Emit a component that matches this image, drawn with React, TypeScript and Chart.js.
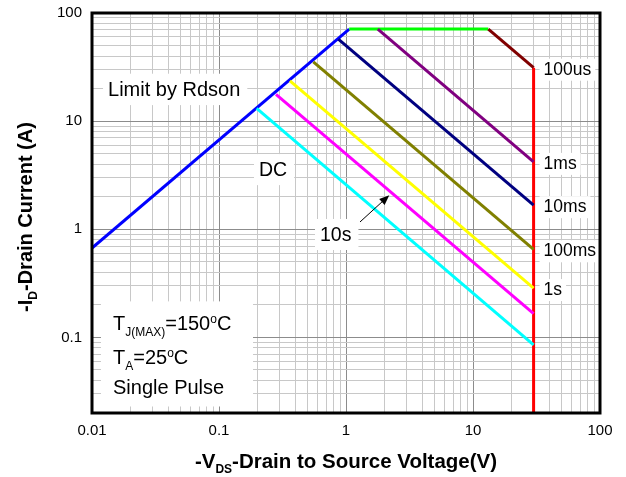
import { useEffect, useRef } from "react";
import { Chart, registerables } from "chart.js";

Chart.register(...registerables);

const FONT = "'Liberation Sans', Arial, Helvetica, sans-serif";

// Safe operating area boundaries: drain-source voltage (V) against drain current (A)
const rdsonV = [0.01, 1.06];
const rdsonI = [0.67, 71];
const currentLimitV = [1.06, 13.2];
const currentLimitI = [71, 71];
const pulse100usV = [13.2, 30];
const pulse100usI = [71, 31.2];
const breakdownV = [30, 30];
const breakdownI = [31.2, 0.02];
const pulse1msV = [1.78, 30];
const pulse1msI = [71, 4.2];
const pulse10msV = [0.87, 30];
const pulse10msI = [57.4, 1.67];
const pulse100msV = [0.553, 30];
const pulse100msI = [35.4, 0.653];
const pulse1sV = [0.362, 30];
const pulse1sI = [23.6, 0.286];
const pulse10sV = [0.281, 30];
const pulse10sI = [17.7, 0.166];
const dcV = [0.198, 30];
const dcI = [13.1, 0.0855];

// Axes
const xRange = [0.01, 100];
const yRange = [0.02, 100];
const xTickValues = [0.01, 0.1, 1, 10, 100];
const xTickLabels = ["0.01", "0.1", "1", "10", "100"];
const yTickValues = [0.1, 1, 10, 100];
const yTickLabels = ["0.1", "1", "10", "100"];

// Pulse-width labels at the right end of each curve
const pulseLabelTexts = ["100us", "1ms", "10ms", "100ms", "1s"];
const pulseLabelV = [pulse100usV[1], pulse1msV[1], pulse10msV[1], pulse100msV[1], pulse1sV[1]];
const pulseLabelI = [pulse100usI[1], pulse1msI[1], pulse10msI[1], pulse100msI[1], pulse1sI[1]];

// Free labels (left edge / baseline in data units)
const areaLabelTexts = ["Limit by Rdson", "DC", "10s"];
const areaLabelV = [0.01337, 0.2065, 0.624];
const areaLabelI = [17.04, 3.1, 0.779];
const areaLabelSizes = [20, 19.5, 19.5];

// Arrow pointing from the "10s" label to its curve
const arrowV = [1.289, 2.192];
const arrowI = [1.168, 2.064];

// Test conditions block
type Part = { text: string; size: number; dy?: number; bold?: boolean };
const conditionLines: Part[][] = [
  [
    { text: "T", size: 20 },
    { text: "J(MAX)", size: 12, dy: 6 },
    { text: "=150", size: 20 },
    { text: "o", size: 12, dy: -7 },
    { text: "C", size: 20 },
  ],
  [
    { text: "T", size: 20 },
    { text: "A", size: 12, dy: 6 },
    { text: "=25", size: 20 },
    { text: "o", size: 12, dy: -7 },
    { text: "C", size: 20 },
  ],
  [{ text: "Single Pulse", size: 20 }],
];
const conditionV = 0.01463;
const conditionBaselineI = [0.116, 0.0562, 0.0297];
const conditionBoxV = [0.01177, 0.1853];
const conditionBoxI = [0.2154, 0.02297];

const xTitle: Part[] = [
  { text: "-V", size: 20.5, bold: true },
  { text: "DS", size: 12, bold: true, dy: 5 },
  { text: "-Drain to Source Voltage(V)", size: 20.5, bold: true },
];
const yTitle: Part[] = [
  { text: "-I", size: 20, bold: true },
  { text: "D", size: 12, bold: true, dy: 5 },
  { text: "-Drain Current (A)", size: 20, bold: true },
];

const MINOR_GRID = "rgb(200,200,200)";
const MAJOR_GRID = "rgb(140,140,140)";

function gridValues(min: number, max: number): number[] {
  const out: number[] = [];
  const e0 = Math.floor(Math.log10(min) + 1e-9);
  const e1 = Math.ceil(Math.log10(max) - 1e-9);
  for (let e = e0; e <= e1; e++) {
    for (let m = 1; m <= 9; m++) {
      const v = parseFloat((m * Math.pow(10, e)).toPrecision(6));
      if (v >= min * 0.999999 && v <= max * 1.000001) out.push(v);
    }
  }
  return out;
}

const isDecade = (v: number) => Math.abs(Math.log10(v) - Math.round(Math.log10(v))) < 1e-6;

function tickLabel(v: number, values: number[], labels: string[]) {
  const i = values.findIndex((t) => Math.abs(Math.log10(t) - Math.log10(v)) < 1e-6);
  return i >= 0 ? labels[i] : "";
}

function partsWidth(ctx: CanvasRenderingContext2D, parts: Part[]) {
  let w = 0;
  for (const p of parts) {
    ctx.font = `${p.bold ? "bold " : ""}${p.size}px ${FONT}`;
    w += ctx.measureText(p.text).width;
  }
  return w;
}

function drawParts(ctx: CanvasRenderingContext2D, x: number, y: number, parts: Part[]) {
  let cx = x;
  for (const p of parts) {
    ctx.font = `${p.bold ? "bold " : ""}${p.size}px ${FONT}`;
    ctx.fillText(p.text, cx, y + (p.dy ?? 0));
    cx += ctx.measureText(p.text).width;
  }
}

const seg = (xs: number[], ys: number[]) => xs.map((x, i) => ({ x, y: ys[i] }));

const annotations = {
  id: "soaAnnotations",
  beforeDraw(chart: any) {
    const ctx = chart.ctx;
    ctx.save();
    ctx.fillStyle = "#ffffff";
    ctx.fillRect(0, 0, chart.width, chart.height);
    ctx.restore();
  },
  beforeDatasetsDraw(chart: any) {
    const ctx: CanvasRenderingContext2D = chart.ctx;
    const sx = chart.scales.x;
    const sy = chart.scales.y;
    ctx.save();
    ctx.textBaseline = "alphabetic";
    ctx.textAlign = "left";

    // free labels with white backing
    areaLabelTexts.forEach((t, i) => {
      const size = areaLabelSizes[i];
      const x = sx.getPixelForValue(areaLabelV[i]);
      const y = sy.getPixelForValue(areaLabelI[i]);
      ctx.font = `${size}px ${FONT}`;
      const w = ctx.measureText(t).width;
      ctx.fillStyle = "#ffffff";
      ctx.fillRect(x - 5, y - size * 0.72 - 8, w + 12, size * 0.72 + 17);
      ctx.fillStyle = "#000000";
      ctx.fillText(t, x, y);
    });

    // conditions block
    const bx0 = sx.getPixelForValue(conditionBoxV[0]);
    const bx1 = sx.getPixelForValue(conditionBoxV[1]);
    const by0 = sy.getPixelForValue(conditionBoxI[0]);
    const by1 = sy.getPixelForValue(conditionBoxI[1]);
    ctx.fillStyle = "#ffffff";
    ctx.fillRect(bx0, by0, bx1 - bx0, by1 - by0);
    ctx.fillStyle = "#000000";
    const cx = sx.getPixelForValue(conditionV);
    conditionLines.forEach((parts, i) => {
      drawParts(ctx, cx, sy.getPixelForValue(conditionBaselineI[i]), parts);
    });

    // pulse labels at curve ends
    ctx.textBaseline = "middle";
    pulseLabelTexts.forEach((t, i) => {
      const x = sx.getPixelForValue(pulseLabelV[i]) + 10;
      const y = sy.getPixelForValue(pulseLabelI[i]) + 2;
      ctx.font = `17.5px ${FONT}`;
      const w = ctx.measureText(t).width;
      ctx.fillStyle = "#ffffff";
      ctx.fillRect(x - 4, y - 11, w + 8, 22);
      ctx.fillStyle = "#000000";
      ctx.fillText(t, x, y);
    });
    ctx.restore();
  },
  afterDatasetsDraw(chart: any) {
    const ctx: CanvasRenderingContext2D = chart.ctx;
    const sx = chart.scales.x;
    const sy = chart.scales.y;
    const a = chart.chartArea;
    ctx.save();

    // arrow
    const x0 = sx.getPixelForValue(arrowV[0]);
    const y0 = sy.getPixelForValue(arrowI[0]);
    const x1 = sx.getPixelForValue(arrowV[1]);
    const y1 = sy.getPixelForValue(arrowI[1]);
    const ang = Math.atan2(y1 - y0, x1 - x0);
    const hl = 10;
    const hw = 4;
    ctx.strokeStyle = "#000000";
    ctx.fillStyle = "#000000";
    ctx.lineWidth = 1;
    ctx.beginPath();
    ctx.moveTo(x0, y0);
    ctx.lineTo(x1 - Math.cos(ang) * hl * 0.8, y1 - Math.sin(ang) * hl * 0.8);
    ctx.stroke();
    ctx.beginPath();
    ctx.moveTo(x1, y1);
    ctx.lineTo(
      x1 - Math.cos(ang) * hl - Math.sin(ang) * hw,
      y1 - Math.sin(ang) * hl + Math.cos(ang) * hw
    );
    ctx.lineTo(
      x1 - Math.cos(ang) * hl + Math.sin(ang) * hw,
      y1 - Math.sin(ang) * hl - Math.cos(ang) * hw
    );
    ctx.closePath();
    ctx.fill();

    // plot frame
    ctx.lineWidth = 3;
    ctx.lineJoin = "miter";
    ctx.strokeRect(a.left, a.top, a.right - a.left, a.bottom - a.top);
    ctx.restore();
  },
  afterDraw(chart: any) {
    const ctx: CanvasRenderingContext2D = chart.ctx;
    const a = chart.chartArea;
    ctx.save();
    ctx.fillStyle = "#000000";
    ctx.textBaseline = "alphabetic";
    ctx.textAlign = "left";

    const wx = partsWidth(ctx, xTitle);
    drawParts(ctx, (a.left + a.right) / 2 - wx / 2, a.bottom + 55, xTitle);

    const wy = partsWidth(ctx, yTitle);
    ctx.translate(32, (a.top + a.bottom) / 2 + 4);
    ctx.rotate(-Math.PI / 2);
    drawParts(ctx, -wy / 2, 0, yTitle);
    ctx.restore();
  },
};

export default function App() {
  const canvasRef = useRef<HTMLCanvasElement | null>(null);

  useEffect(() => {
    const canvas = canvasRef.current;
    if (!canvas) return;
    const xGrid = gridValues(xRange[0], xRange[1]);
    const yGrid = gridValues(yRange[0], yRange[1]);
    const gridColor = (c: any) => (c.tick && isDecade(c.tick.value) ? MAJOR_GRID : MINOR_GRID);

    const line = (data: { x: number; y: number }[], color: string) => ({
      data,
      borderColor: color,
      backgroundColor: color,
      borderWidth: 3,
      pointRadius: 0,
      showLine: true,
      fill: false,
      tension: 0,
      borderCapStyle: "butt" as const,
    });

    const chart = new Chart(canvas, {
      type: "scatter",
      data: {
        datasets: [
          line(seg(dcV, dcI), "#00ffff"),
          line(seg(pulse10sV, pulse10sI), "#ff00ff"),
          line(seg(pulse1sV, pulse1sI), "#ffff00"),
          line(seg(pulse100msV, pulse100msI), "#808000"),
          line(seg(pulse10msV, pulse10msI), "#000080"),
          line(seg(pulse1msV, pulse1msI), "#800080"),
          line(seg(pulse100usV, pulse100usI), "#800000"),
          line(seg(currentLimitV, currentLimitI), "#00ff00"),
          line(seg(rdsonV, rdsonI), "#0000ff"),
          line(seg(breakdownV, breakdownI), "#ff0000"),
        ],
      },
      options: {
        responsive: false,
        animation: false,
        devicePixelRatio: 1,
        layout: { padding: { left: 0, right: 26, top: 13, bottom: 0 } },
        plugins: {
          legend: { display: false },
          tooltip: { enabled: false },
        },
        scales: {
          x: {
            type: "logarithmic",
            position: "bottom",
            min: xRange[0],
            max: xRange[1],
            afterBuildTicks: (s: any) => {
              s.ticks = xGrid.map((v) => ({ value: v }));
            },
            afterFit: (s: any) => {
              s.height = 64;
              s.paddingLeft = 0;
              s.paddingRight = 0;
            },
            ticks: {
              autoSkip: false,
              maxRotation: 0,
              minRotation: 0,
              padding: 9,
              color: "#000000",
              font: { family: FONT, size: 15 },
              callback: (v: any) => tickLabel(Number(v), xTickValues, xTickLabels),
            },
            grid: { drawTicks: false, color: gridColor, lineWidth: 1 },
            border: { display: false },
          },
          y: {
            type: "logarithmic",
            position: "left",
            min: yRange[0],
            max: yRange[1],
            afterBuildTicks: (s: any) => {
              s.ticks = yGrid.map((v) => ({ value: v }));
            },
            afterFit: (s: any) => {
              s.width = 92;
              s.paddingTop = 0;
              s.paddingBottom = 0;
            },
            ticks: {
              autoSkip: false,
              padding: 10,
              color: "#000000",
              font: { family: FONT, size: 15 },
              callback: (v: any) => tickLabel(Number(v), yTickValues, yTickLabels),
            },
            grid: { drawTicks: false, color: gridColor, lineWidth: 1 },
            border: { display: false },
          },
        },
      },
      plugins: [annotations],
    });
    return () => chart.destroy();
  }, []);

  return (
    <div style={{ position: "fixed", left: 0, top: 0, width: 626, height: 477, background: "#ffffff" }}>
      <canvas ref={canvasRef} width={626} height={477} style={{ display: "block" }} />
    </div>
  );
}
